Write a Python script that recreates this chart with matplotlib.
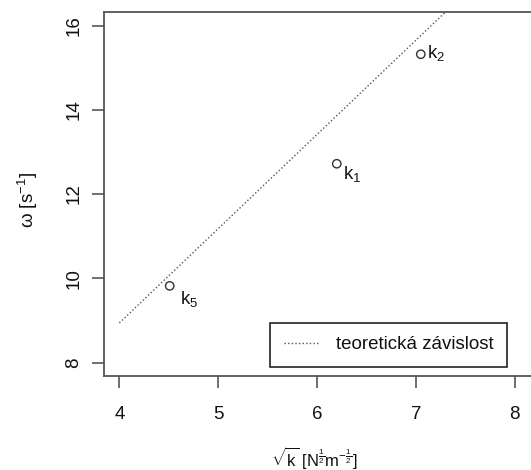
import matplotlib
matplotlib.use("Agg")
import matplotlib.pyplot as plt

plt.rcParams['font.family'] = ['Liberation Sans', 'DejaVu Sans']
plt.rcParams['mathtext.fontset'] = 'custom'
plt.rcParams['mathtext.rm'] = 'Liberation Sans'
plt.rcParams['mathtext.it'] = 'Liberation Sans'
plt.rcParams['mathtext.bf'] = 'Liberation Sans:bold'

# data
sqrt_k = [6.20, 7.05, 4.51]
omega = [12.72, 15.32, 9.82]
point_labels = [r'$\mathrm{k}_1$', r'$\mathrm{k}_2$', r'$\mathrm{k}_5$']
theory_x = [4.0, 8.0]
theory_y = [8.94, 17.89]
xticks = [4, 5, 6, 7, 8]
yticks = [8, 10, 12, 14, 16]
legend_label = 'teoretická závislost'

W, H = 531, 470
FS = 13.5
fig = plt.figure(figsize=(W / 100, H / 100), dpi=100)
ax = fig.add_axes([104 / W, (H - 376) / H, (531.5 - 104) / W, (376 - 11.7) / H])

ax.plot(theory_x, theory_y, linestyle=(0, (1, 1.6)), color='#555555', linewidth=1.0,
        label=legend_label)
ax.scatter(sqrt_k, omega, s=36, facecolors='none', edgecolors='#333333', linewidths=1.0,
           zorder=3)

offsets = [(6, -15), (6, -4), (10, -18)]
for x, y, lab, off in zip(sqrt_k, omega, point_labels, offsets):
    ax.annotate(lab, (x, y), xytext=off, textcoords='offset pixels',
                ha='left', va='baseline', fontsize=FS, color='#111111')

ax.set_xlim(3.845, 8.17)
ax.set_ylim(7.68, 16.33)
ax.set_xticks(xticks)
ax.set_yticks(yticks)
ax.set_xticklabels([str(t) for t in xticks])
ax.set_yticklabels([str(t) for t in yticks], rotation=90, va='center')

for side in ['left', 'bottom', 'top']:
    ax.spines[side].set_color('#555555')
    ax.spines[side].set_linewidth(1.3)
ax.spines['right'].set_visible(False)

ax.tick_params(axis='both', length=8.6, width=1.2, color='#555555', labelsize=FS,
               labelcolor='#111111')
ax.tick_params(axis='x', pad=13)
ax.tick_params(axis='y', pad=7)

fig.text(314 / W, 1 - 458 / H,
         r'$\sqrt{\mathrm{k}}\ [\mathrm{N}^{\frac{1}{2}}\mathrm{m}^{-\frac{1}{2}}]$',
         ha='center', va='center', fontsize=12, color='#111111')
fig.text(28 / W, 1 - 200 / H, r'$\omega\ [\mathrm{s}^{-1}]$', rotation=90,
         ha='center', va='center', fontsize=FS, color='#111111')

leg = ax.legend(loc='lower right', bbox_to_anchor=(507.3 / W, (H - 366.7) / H),
                bbox_transform=fig.transFigure, borderaxespad=0, fancybox=False,
                edgecolor='#222222', framealpha=1, fontsize=FS, handlelength=1.95,
                handletextpad=0.85, borderpad=0.72)
leg.get_frame().set_linewidth(1.2)
for t in leg.get_texts():
    t.set_color('#111111')

fig.savefig('out.png', dpi=100)
